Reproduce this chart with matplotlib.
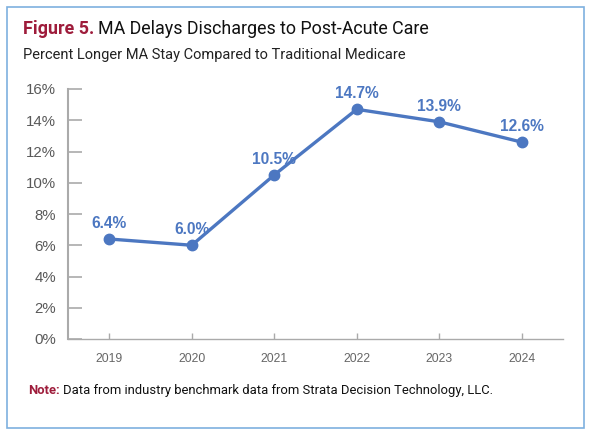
import matplotlib
matplotlib.use("Agg")
import matplotlib.pyplot as plt
from matplotlib.patches import Rectangle

years = ["2019", "2020", "2021", "2022", "2023", "2024"]
values = [6.4, 6.0, 10.5, 14.7, 13.9, 12.6]
labels = ["6.4%", "6.0%", "10.5%", "14.7%", "13.9%", "12.6%"]
yticks = [0, 2, 4, 6, 8, 10, 12, 14, 16]
ytick_labels = ["0%", "2%", "4%", "6%", "8%", "10%", "12%", "14%", "16%"]

plt.rcParams['font.family'] = ['Roboto', 'DejaVu Sans']
arial = ['Liberation Sans', 'DejaVu Sans']

W, H = 592, 434
fig = plt.figure(figsize=(W / 100, H / 100), dpi=100)
fig.patch.set_facecolor("white")

# border
fig.patches.append(Rectangle((7 / W, 1 - 428 / H), 577 / W, 421 / H,
                             transform=fig.transFigure, fill=False,
                             edgecolor="#7eb0df", linewidth=1.2))

ax = fig.add_axes([68 / W, 1 - 339 / H, (563 - 68) / W, (339 - 89) / H])
blue = "#4c77c1"
x = list(range(len(years)))
ax.plot(x, values, color=blue, linewidth=2.4, marker="o", markersize=7.5,
        solid_capstyle="round", zorder=3, clip_on=False)
for xi, v, lab in zip(x, values, labels):
    ax.annotate(lab, (xi, v), xytext=(0, 8), textcoords="offset points",
                ha="center", va="baseline", color=blue, fontsize=11.2,
                fontweight="bold", family=arial)

ax.set_xlim(-0.5, len(years) - 0.5)
ax.set_ylim(0, 16)
ax.set_xticks(x)
ax.set_xticklabels(years, family=arial)
ax.set_yticks(yticks)
ax.set_yticklabels(ytick_labels, family=arial)

for s in ["top", "right"]:
    ax.spines[s].set_visible(False)
ax.spines["left"].set_color("#aaaaaa")
ax.spines["left"].set_linewidth(1.5)
ax.spines["bottom"].set_color("#aaaaaa")
ax.spines["bottom"].set_linewidth(1.0)

ax.tick_params(axis="y", direction="in", length=10, width=1.2, color="#aaaaaa",
               labelsize=10.8, labelcolor="#595959", pad=8.5)
ax.tick_params(axis="x", direction="in", length=4.5, width=1.0, color="#aaaaaa",
               labelsize=8.7, labelcolor="#666666", pad=10)
ax.get_yticklines()[0].set_color("black")

# title
t1 = fig.text(23 / W, 1 - 34 / H, "Figure 5.", fontsize=12.9, fontweight="bold",
              color="#9e1c3b", ha="left", va="baseline")
fig.canvas.draw()
bb = t1.get_window_extent()
fig.text((bb.x1 + 4) / W, 1 - 34 / H, "MA Delays Discharges to Post-Acute Care",
         fontsize=12.9, color="#111111", ha="left", va="baseline")
fig.text(23 / W, 1 - 59 / H, "Percent Longer MA Stay Compared to Traditional Medicare",
         fontsize=10.5, color="#222222", ha="left", va="baseline")

n1 = fig.text(28 / W, 1 - 394 / H, "Note:", fontsize=9.4, fontweight="bold",
              color="#9e1c3b", ha="left", va="baseline")
fig.canvas.draw()
bb = n1.get_window_extent()
fig.text((bb.x1 + 3) / W, 1 - 394 / H,
         "Data from industry benchmark data from Strata Decision Technology, LLC.",
         fontsize=9.4, color="#111111", ha="left", va="baseline")

fig.savefig("out.png", dpi=100)
